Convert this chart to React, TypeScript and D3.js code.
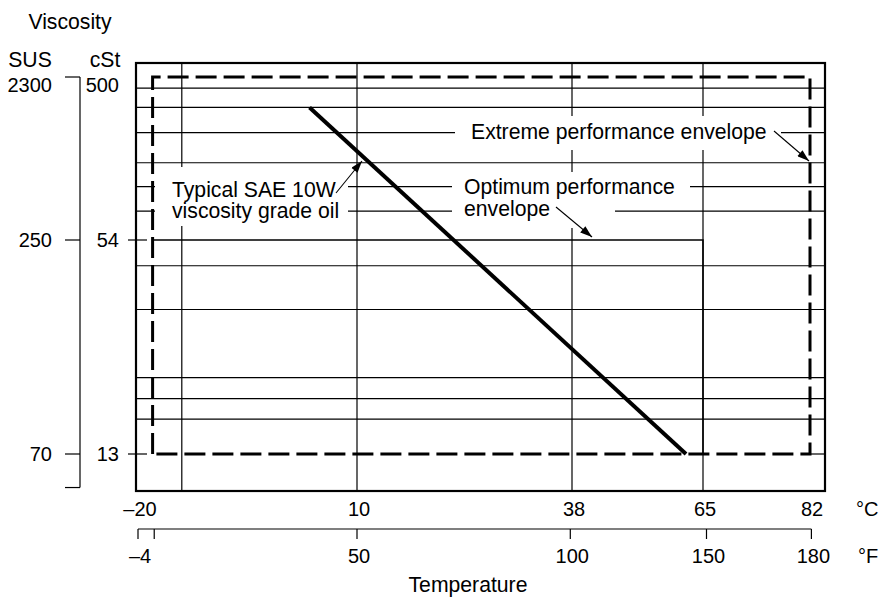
import React from 'react';
import * as d3 from 'd3';

// ---------- data ----------
const celsiusTicks = [-20, 10, 38, 65, 82];
const celsiusLabels = ['–20', '10', '38', '65', '82'];
const fahrenheitTicks = [-4, 0, 50, 100, 150, 180];
const fahrenheitLabels = ['–4', '', '50', '100', '150', '180'];
const gridTempsC = [-14, 10, 38, 65];
const gridViscCst = [430, 330, 234, 155, 112, 80, 45.5, 34, 21.6, 18.8, 16.4];
const cstLabelValues = [500, 54, 13];
const cstTickValues = [54, 13];
const susLabels = ['2300', '250', '70'];
const susAsCst = [500, 54, 13];
const susAxisBottomCst = 10.4;
const oilTempC = [3.5, 61.5];
const oilViscCst = [330, 13];
const extremeTempC = [-18, 82];
const extremeViscCst = [13, 500];
const optimumTempC = [-18, 65];
const optimumViscCst = [13, 54];

const W = 884;
const H = 598;
const FONT = "'Liberation Sans', Arial, Helvetica, sans-serif";
const FS = 20;
const FS_TEXT = 21.2;

const frame = { left: 136, right: 825, top: 63, bottom: 491 };

const xScale = d3.scaleLinear().domain(celsiusTicks).range([138, 357, 572, 703, 810]);
const yScale = d3.scaleLog().domain([13, 54, 500]).range([454, 240, 77]);
const fToC = (f: number) => ((f - 32) * 5) / 9;

// white masks behind annotation text (layout)
const masks = [
  { x0: 155, y0: 167, x1: 348, y1: 226 },
  { x0: 455, y0: 116, x1: 781, y1: 150 },
  { x0: 452, y0: 172, x1: 690, y1: 200 },
  { x0: 452, y0: 200, x1: 615, y1: 228 },
];

const annotations = [
  { text: 'Typical SAE 10W', x: 172, y: 197 },
  { text: 'viscosity grade oil', x: 172, y: 218 },
  { text: 'Extreme performance envelope', x: 471, y: 139 },
  { text: 'Optimum performance', x: 464, y: 194 },
  { text: 'envelope', x: 464, y: 216 },
];

const arrows = [
  { x1: 336, y1: 193, x2: 362, y2: 161 },
  { x1: 774, y1: 131, x2: 809, y2: 161 },
  { x1: 556, y1: 207, x2: 592, y2: 237 },
];

export default function App() {
  const line = d3.line<[number, number]>().x(d => d[0]).y(d => d[1]);

  const extremePath = line([
    [xScale(extremeTempC[0]), yScale(extremeViscCst[0])],
    [xScale(extremeTempC[0]), yScale(extremeViscCst[1])],
    [xScale(extremeTempC[1]), yScale(extremeViscCst[1])],
    [xScale(extremeTempC[1]), yScale(extremeViscCst[0])],
    [xScale(extremeTempC[0]), yScale(extremeViscCst[0])],
  ]);
  const optimumPath = line([
    [xScale(optimumTempC[0]), yScale(optimumViscCst[1])],
    [xScale(optimumTempC[1]), yScale(optimumViscCst[1])],
    [xScale(optimumTempC[1]), yScale(optimumViscCst[0])],
  ]);
  const oilPath = line(oilTempC.map((t, i) => [xScale(t), yScale(oilViscCst[i])] as [number, number]));

  return (
    <svg width={W} height={H} style={{ position: 'absolute', left: 0, top: 0, background: '#fff' }}
      fontFamily={FONT} fontSize={FS}>
      <defs>
        <marker id="arr" viewBox="0 0 12 8" refX={12} refY={4} markerWidth={13} markerHeight={8}
          markerUnits="userSpaceOnUse" orient="auto">
          <path d="M0,0 L12,4 L0,8 Z" fill="#000" />
        </marker>
      </defs>

      {/* horizontal grid */}
      {gridViscCst.map((v, i) => (
        <line key={'h' + i} x1={frame.left} x2={frame.right} y1={yScale(v)} y2={yScale(v)}
          stroke="#000" strokeWidth={1.2} />
      ))}
      {/* 13 cSt line right of envelope */}
      <line x1={xScale(extremeTempC[1])} x2={frame.right} y1={yScale(13)} y2={yScale(13)} stroke="#000" strokeWidth={1.2} />

      {/* vertical grid */}
      {gridTempsC.map((t, i) => (
        <line key={'v' + i} x1={xScale(t)} x2={xScale(t)} y1={frame.top} y2={frame.bottom}
          stroke="#000" strokeWidth={1.2} />
      ))}

      {/* masks */}
      {masks.map((m, i) => (
        <rect key={'m' + i} x={m.x0} y={m.y0} width={m.x1 - m.x0} height={m.y1 - m.y0} fill="#fff" />
      ))}

      {/* frame */}
      <rect x={frame.left} y={frame.top} width={frame.right - frame.left} height={frame.bottom - frame.top}
        fill="none" stroke="#000" strokeWidth={2.2} />

      {/* optimum envelope */}
      <path d={optimumPath || ''} fill="none" stroke="#000" strokeWidth={1.5} />
      {/* extreme envelope */}
      <path d={extremePath || ''} fill="none" stroke="#000" strokeWidth={3} strokeDasharray="21 7" />

      {/* oil line */}
      <path d={oilPath || ''} fill="none" stroke="#000" strokeWidth={4} />

      {/* annotations */}
      {annotations.map((a, i) => (
        <text key={'a' + i} x={a.x} y={a.y} fill="#000" fontSize={FS_TEXT}>{a.text}</text>
      ))}
      {arrows.map((a, i) => (
        <line key={'ar' + i} x1={a.x1} y1={a.y1} x2={a.x2} y2={a.y2} stroke="#000" strokeWidth={1.1}
          markerEnd="url(#arr)" />
      ))}

      {/* cSt ticks and labels */}
      {cstTickValues.map((v, i) => (
        <line key={'ct' + i} x1={128} x2={147} y1={yScale(v)} y2={yScale(v)} stroke="#000" strokeWidth={1.2} />
      ))}
      {cstLabelValues.map((v, i) => (
        <text key={'cl' + i} x={119} y={yScale(v) + (i === 0 ? 15 : 7)} textAnchor="end">{v}</text>
      ))}

      {/* SUS axis */}
      <line x1={80} x2={80} y1={yScale(susAsCst[0])} y2={yScale(susAxisBottomCst)} stroke="#000" strokeWidth={1.2} />
      {[...susAsCst, susAxisBottomCst].map((v, i) => (
        <line key={'st' + i} x1={65} x2={80} y1={yScale(v)} y2={yScale(v)} stroke="#000" strokeWidth={1.2} />
      ))}
      {susLabels.map((s, i) => (
        <text key={'sl' + i} x={52} y={yScale(susAsCst[i]) + (i === 0 ? 15 : 7)} textAnchor="end">{s}</text>
      ))}

      {/* headers */}
      <text x={70} y={29} textAnchor="middle" fontSize={FS_TEXT}>Viscosity</text>
      <text x={30} y={67} textAnchor="middle" fontSize={FS_TEXT}>SUS</text>
      <text x={105} y={67} textAnchor="middle" fontSize={FS_TEXT}>cSt</text>

      {/* Celsius labels */}
      {celsiusTicks.map((t, i) => (
        <text key={'c' + i} x={xScale(t) + 2} y={516} textAnchor="middle">{celsiusLabels[i]}</text>
      ))}
      <text x={856} y={516}>°C</text>

      {/* Fahrenheit axis */}
      <line x1={xScale(fToC(fahrenheitTicks[0]))} x2={xScale(fToC(fahrenheitTicks[fahrenheitTicks.length - 1]))}
        y1={529} y2={529} stroke="#000" strokeWidth={1.2} />
      {fahrenheitTicks.map((f, i) => (
        <g key={'f' + i}>
          <line x1={xScale(fToC(f))} x2={xScale(fToC(f))} y1={529} y2={539} stroke="#000" strokeWidth={1.2} />
          {fahrenheitLabels[i] && (
            <text x={xScale(fToC(f)) + 2} y={563} textAnchor="middle">{fahrenheitLabels[i]}</text>
          )}
        </g>
      ))}
      <text x={858} y={563}>°F</text>
      <text x={468} y={592} textAnchor="middle" fontSize={FS_TEXT}>Temperature</text>
    </svg>
  );
}
